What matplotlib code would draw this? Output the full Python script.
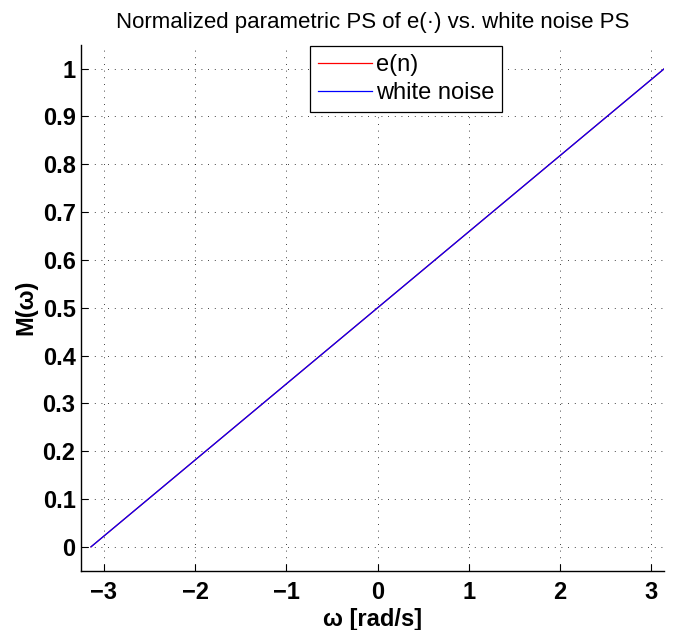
import numpy as np
import matplotlib
matplotlib.use("Agg")
import matplotlib.pyplot as plt

plt.rcParams["font.family"] = ["Liberation Sans", "DejaVu Sans"]

# normalized cumulative PS, sampled on [-pi, pi]
omega = [-np.pi, np.pi]
m_en = [0.0, 1.0]
m_white = [0.0, 1.0]

x_ticks = [-3, -2, -1, 0, 1, 2, 3]
y_ticks = [0, 0.1, 0.2, 0.3, 0.4, 0.5, 0.6, 0.7, 0.8, 0.9, 1]

fig = plt.figure(figsize=(6.87, 6.30), dpi=100)
ax = fig.add_axes([0.118, 0.094, 0.849, 0.835])

ax.plot(omega, m_en, color="red", linewidth=0.9, label="e(n)")
ax.plot(omega, m_white, color="blue", linewidth=0.9, label="white noise")

ax.set_xlim(-3.25, np.pi)
ax.set_ylim(-0.05, 1.05)
ax.set_xticks(x_ticks)
ax.set_yticks(y_ticks)
ax.set_yticklabels([f"{v:g}" for v in y_ticks])

ax.grid(True, linestyle=(0, (1, 7)), color="black", linewidth=0.6)
ax.tick_params(direction="in", length=5, width=0.8, labelsize=17)
ax.tick_params(axis="x", pad=7)
ax.tick_params(axis="y", pad=4)
for lbl in ax.get_xticklabels() + ax.get_yticklabels():
    lbl.set_fontweight("bold")

for side in ("top", "right"):
    ax.spines[side].set_visible(False)
for side in ("left", "bottom"):
    ax.spines[side].set_linewidth(1.0)

ax.set_xlabel("ω [rad/s]", fontsize=17, fontweight="bold", labelpad=3)
ax.set_ylabel("M(ω)", fontsize=17, fontweight="bold", labelpad=4)
ax.set_title("Normalized parametric PS of e(·) vs. white noise PS", fontsize=16, pad=12)

leg = ax.legend(loc="upper center", bbox_to_anchor=(0.557, 0.998), fontsize=17,
                fancybox=False, framealpha=1, edgecolor="black",
                handlelength=2.3, borderpad=0.35, labelspacing=0.25, handletextpad=0.15,
                borderaxespad=0)
leg.get_frame().set_linewidth(0.9)

fig.savefig("out.png", dpi=100)
